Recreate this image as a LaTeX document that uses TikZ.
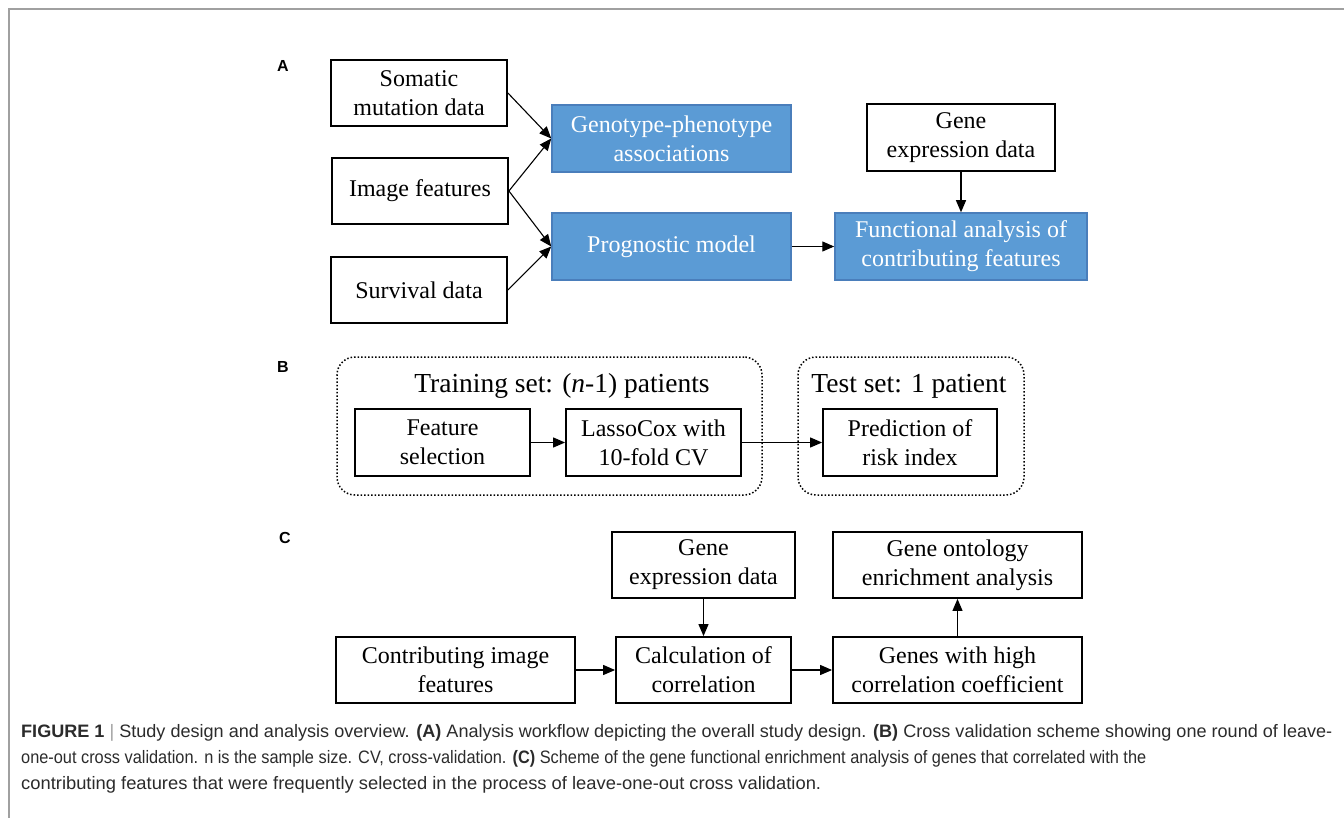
\documentclass[tikz,border=0pt]{standalone}
\usepackage{fontspec}
\usepackage{graphicx}
\setmainfont{Liberation Serif}
\newfontfamily\capfont{Liberation Sans}
\usetikzlibrary{arrows.meta}
\definecolor{bluefill}{HTML}{5B9BD5}
\definecolor{blueline}{HTML}{4A7EBB}
\definecolor{captext}{HTML}{2B2B2B}
\definecolor{framegray}{HTML}{A0A0A0}
\tikzset{
  box/.style={draw=black, line width=1.8pt, fill=white, inner sep=0pt, align=center,
    font=\fontsize{24}{29}\selectfont},
  bluebox/.style={draw=blueline, fill=bluefill, line width=1.5pt, inner sep=0pt, align=center,
    text=white, font=\fontsize{24}{29}\selectfont},
  arr/.style={-{Triangle[length=12pt,width=10pt]}, line width=1.1pt},
  dotbox/.style={draw=black, dotted, line width=1.5pt, rounded corners=18pt, inner sep=0pt},
  settitle/.style={anchor=base, inner sep=0pt, font=\fontsize{27.5}{32}\selectfont},
  panellab/.style={inner sep=0pt, font=\capfont\bfseries\fontsize{16}{19}\selectfont},
  capline/.style={anchor=base west, inner sep=0pt, text=captext, font=\capfont\fontsize{18}{22}\selectfont}
}
\begin{document}
\begin{tikzpicture}[x=1pt, y=-1pt]
\useasboundingbox (0,0) rectangle (1344,818);
% frame
\draw[framegray, line width=1.5pt] (1344,9) -- (9,9) -- (9,818);

% ---------- Panel A ----------
\node[panellab] (labA) at (283,66) {A};
\node[box, minimum width=176pt, minimum height=66pt] (som) at (419,93) {Somatic\\mutation data};
\node[box, minimum width=176pt, minimum height=66pt] (img) at (420,191) {Image features};
\node[box, minimum width=176pt, minimum height=66pt] (surv) at (419,290) {Survival data};
\node[bluebox, minimum width=239pt, minimum height=67pt] (geno) at (671.5,138.5) {Genotype-phenotype\\associations};
\node[bluebox, minimum width=239pt, minimum height=67pt] (prog) at (671.5,246.5) {Prognostic model};
\node[box, minimum width=188pt, minimum height=67pt] (gexpA) at (961,137.5) {Gene\\expression data};
\node[bluebox, minimum width=252pt, minimum height=67pt] (func) at (961,246.5) {Functional analysis of\\contributing features};
\draw[arr] (som.east) -- (geno.west);
\draw[arr] (img.east) -- (geno.west);
\draw[arr] (img.east) -- (prog.west);
\draw[arr] (surv.east) -- (prog.west);
\draw[arr] (prog.east) -- (func.west);
\draw[arr] (gexpA.south) -- (func.north);

% ---------- Panel B ----------
\node[panellab] (labB) at (283,367) {B};
\node[dotbox, minimum width=425pt, minimum height=138pt] (train) at (549.5,426) {};
\node[dotbox, minimum width=226pt, minimum height=138pt] (test) at (911,426) {};
\node[settitle] (trainT) at (562,392) {Training set: (\textit{n}-1) patients};
\node[settitle] (testT) at (909,392) {Test set: 1 patient};
\node[box, minimum width=175pt, minimum height=67pt] (feat) at (442.5,442.5) {Feature\\selection};
\node[box, minimum width=175pt, minimum height=67pt] (lasso) at (653.5,442.5) {LassoCox with\\10-fold CV};
\node[box, minimum width=174pt, minimum height=67pt] (pred) at (910,442.5) {Prediction of\\risk index};
\draw[arr] (feat.east) -- (lasso.west);
\draw[arr] (lasso.east) -- (pred.west);

% ---------- Panel C ----------
\node[panellab] (labC) at (285,538) {C};
\node[box, minimum width=183pt, minimum height=66pt] (gexpC) at (703.5,565) {Gene\\expression data};
\node[box, minimum width=249pt, minimum height=66pt] (onto) at (957.5,565) {Gene ontology\\enrichment analysis};
\node[box, minimum width=239pt, minimum height=66pt] (contrib) at (455.5,670) {Contributing image\\features};
\node[box, minimum width=175pt, minimum height=66pt] (calc) at (703.5,670) {Calculation of\\correlation};
\node[box, minimum width=249pt, minimum height=66pt] (genes) at (957.5,670) {Genes with high\\correlation coefficient};
\draw[arr] (contrib.east) -- (calc.west);
\draw[arr] (gexpC.south) -- (calc.north);
\draw[arr] (calc.east) -- (genes.west);
\draw[arr] (genes.north) -- (onto.south);

% ---------- Caption ----------
\node[capline] (cap1) at (21,737) {\resizebox{1311pt}{\height}{\textbf{FIGURE 1} {\color{framegray}|} Study design and analysis overview. \textbf{(A)} Analysis workflow depicting the overall study design. \textbf{(B)} Cross validation scheme showing one round of leave-}};
\node[capline] (cap2) at (21,763) {\resizebox{1125pt}{\height}{one-out cross validation. n is the sample size. CV, cross-validation. \textbf{(C)} Scheme of the gene functional enrichment analysis of genes that correlated with the}};
\node[capline] (cap3) at (21,789) {\resizebox{800pt}{\height}{contributing features that were frequently selected in the process of leave-one-out cross validation.}};
\end{tikzpicture}
\end{document}
